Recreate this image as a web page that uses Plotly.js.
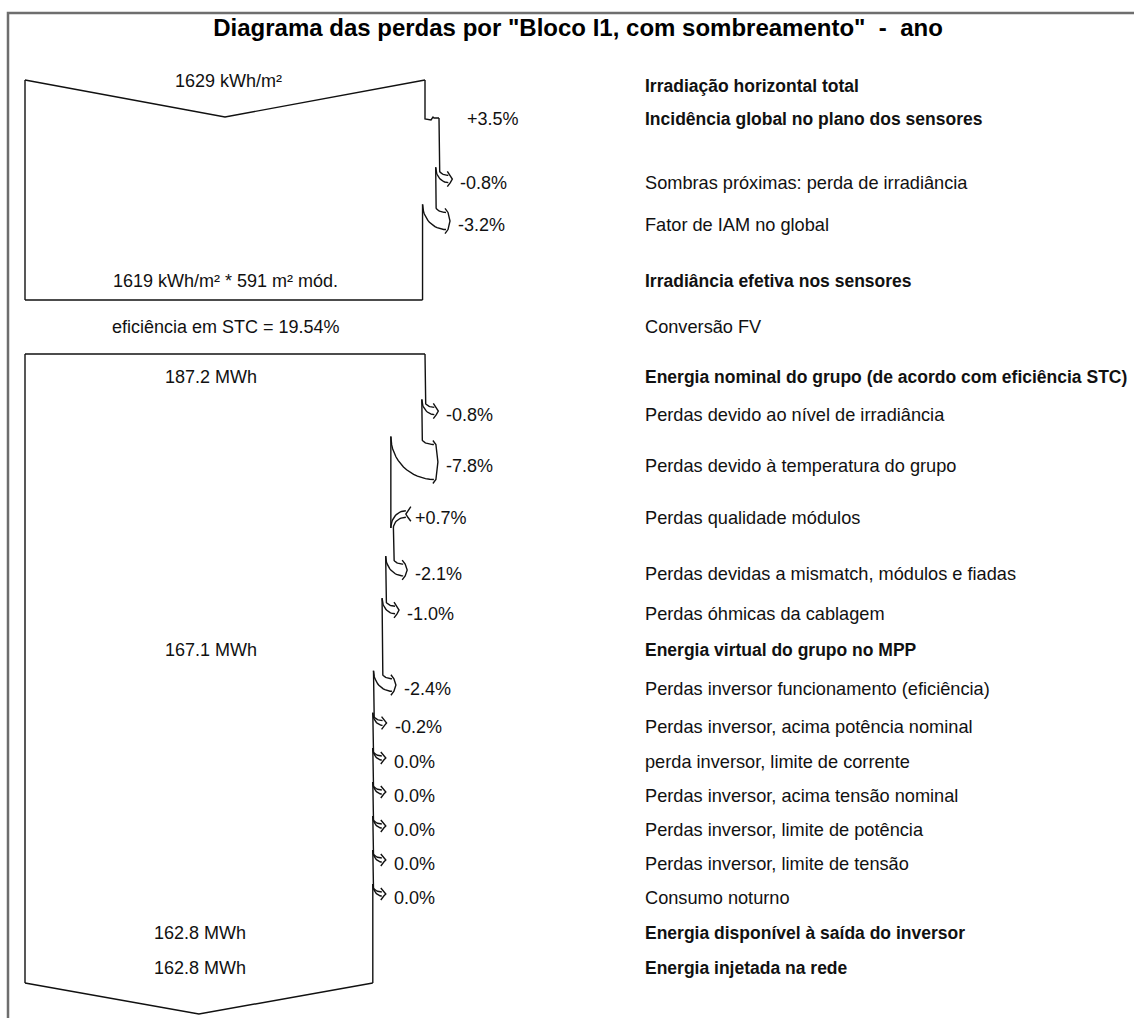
<!DOCTYPE html>
<html>
<head>
<meta charset="utf-8">
<script src="https://cdn.plot.ly/plotly-3.0.1.min.js"></script>
<style>
  html, body { margin: 0; padding: 0; background: #fff; }
  #chart { width: 1134px; height: 1018px; }
</style>
</head>
<body>
<div id="chart"></div>
<script>
// values
var irradHorizontal = 1629;   // kWh/m²
var irradEffective = 1619;    // kWh/m²
var moduleArea = 591;         // m²
var effSTC = 19.54;           // %
var energyNominal = 187.2;    // MWh
var energyMPP = 167.1;
var energyInverterOut = 162.8;
var energyGrid = 162.8;

var irradSteps = [3.5, -0.8, -3.2];
var energySteps = [-0.8, -7.8, 0.7, -2.1, -1.0, -2.4, -0.2, 0.0, 0.0, 0.0, 0.0, 0.0];

var rowLabels = [
  'Irradiação horizontal total',
  'Incidência global no plano dos sensores',
  'Sombras próximas: perda de irradiância',
  'Fator de IAM no global',
  'Irradiância efetiva nos sensores',
  'Conversão FV',
  'Energia nominal do grupo (de acordo com eficiência STC)',
  'Perdas devido ao nível de irradiância',
  'Perdas devido à temperatura do grupo',
  'Perdas qualidade módulos',
  'Perdas devidas a mismatch, módulos e fiadas',
  'Perdas óhmicas da cablagem',
  'Energia virtual do grupo no MPP',
  'Perdas inversor funcionamento (eficiência)',
  'Perdas inversor, acima potência nominal',
  'perda inversor, limite de corrente',
  'Perdas inversor, acima tensão nominal',
  'Perdas inversor, limite de potência',
  'Perdas inversor, limite de tensão',
  'Consumo noturno',
  'Energia disponível à saída do inversor',
  'Energia injetada na rede'
];

// ---- layout of the drawing (pixel units, y grows downwards) ----
var ROW_Y = [86, 119, 183, 225, 281, 327, 377, 415, 466, 518, 574, 614, 650,
             689, 727, 762, 796, 830, 864, 898, 933, 968];
var BOLD_ROWS = [0, 1, 4, 6, 12, 20, 21];
var STEP_ROWS1 = [1, 2, 3];
var STEP_ROWS2 = [7, 8, 9, 10, 11, 13, 14, 15, 16, 17, 18, 19];
var X0 = 25, W_PX = 400, LABEL_X = 643;
var FONT = 'Liberation Sans, Arial, sans-serif';

var lx = [], ly = [];
var notes = [];

function poly(pts) {
  pts.forEach(function (p) { lx.push(p[0]); ly.push(p[1]); });
  lx.push(null); ly.push(null);
}
// vertical tangent at start, horizontal at end
function arcVH(x1, y1, x2, y2) {
  var pts = [];
  for (var i = 0; i <= 16; i++) {
    var t = i / 16 * Math.PI / 2;
    pts.push([x2 + (x1 - x2) * Math.cos(t), y1 + (y2 - y1) * Math.sin(t)]);
  }
  return pts;
}
// horizontal tangent at start, vertical at end
function arcHV(x1, y1, x2, y2) {
  var pts = [];
  for (var i = 0; i <= 16; i++) {
    var t = i / 16 * Math.PI / 2;
    pts.push([x1 + (x2 - x1) * Math.sin(t), y2 + (y1 - y2) * Math.cos(t)]);
  }
  return pts;
}
function pctText(p) {
  return (p > 0 ? '+' : '') + p.toFixed(1) + '%';
}

function drawBlock(topY, vTop, bottomY, vBottom, steps, rows, firstGainIsStep) {
  var frac = 1;
  var right = X0 + W_PX * frac;
  // top edge
  if (vTop) poly([[X0, topY], [X0 + W_PX / 2, topY + vTop], [right, topY]]);
  else poly([[X0, topY], [right, topY]]);
  var segStart = topY;

  steps.forEach(function (p, i) {
    var y = ROW_Y[rows[i]];
    var xo = right;
    frac = frac * (1 + p / 100);
    var xn = X0 + W_PX * frac;
    var d = Math.abs(xn - xo);
    var ya = y - 4;
    var labelX;
    if (p > 0 && firstGainIsStep && i === 0) {
      poly([[xo, segStart], [xo, y], [xo + 6, y + 1], [xo + 8, y - 2], [xo + 9, y - 1], [xn, y - 1]]);
      segStart = y - 1;
      labelX = xn + 26;
    } else if (p > 0) {
      var tipG = xo + 17;
      var yEnd = ya + 14;
      poly([[xo, segStart], [xo, yEnd]]);
      poly(arcHV(tipG - 2, ya - d / 2 - 2, xo, yEnd));
      poly(arcHV(tipG - 2, ya + d / 2 + 2, xn, yEnd));
      poly([[tipG + 3, ya - d / 2 - 6], [tipG, ya - d / 2 - 2], [tipG - 2, ya],
            [tipG, ya + d / 2 + 2], [tipG + 3, ya + d / 2 + 6]]);
      segStart = yEnd;
      labelX = tipG + 5;
    } else {
      var tip = xo + 11 + 0.1 * d;
      var yS = ya - d / 2 - 8;
      poly([[xo, segStart]].concat(arcVH(xo, yS, tip - 2, ya - d / 2 - 2)));
      poly(arcVH(xn, yS - 2, tip - 2, ya + d / 2 + 2));
      poly([[tip - 3, ya - d / 2 - 6], [tip, ya - d / 2 - 2], [tip + 2, ya],
            [tip, ya + d / 2 + 2], [tip - 3, ya + d / 2 + 6]]);
      segStart = yS - 2;
      labelX = tip + 8;
    }
    right = xn;
    notes.push({x: labelX, y: y, text: pctText(p), xanchor: 'left'});
  });

  poly([[right, segStart], [right, bottomY]]);
  if (vBottom) poly([[right, bottomY], [(X0 + right) / 2, bottomY + vBottom], [X0, bottomY]]);
  else poly([[right, bottomY], [X0, bottomY]]);
  poly([[X0, topY], [X0, bottomY]]);
}

drawBlock(80, 37, 300, 0, irradSteps, STEP_ROWS1, true);
drawBlock(354, 0, 983, 31, energySteps, STEP_ROWS2, false);

// value labels inside the flow
notes.push({x: 228, y: 81, text: irradHorizontal + ' kWh/m²'});
notes.push({x: 225, y: ROW_Y[4], text: irradEffective + ' kWh/m² * ' + moduleArea + ' m² mód.'});
notes.push({x: 226, y: ROW_Y[5], text: 'eficiência em STC = ' + effSTC.toFixed(2) + '%'});
notes.push({x: 211, y: ROW_Y[6], text: energyNominal.toFixed(1) + ' MWh'});
notes.push({x: 211, y: ROW_Y[12], text: energyMPP.toFixed(1) + ' MWh'});
notes.push({x: 200, y: ROW_Y[20], text: energyInverterOut.toFixed(1) + ' MWh'});
notes.push({x: 200, y: ROW_Y[21], text: energyGrid.toFixed(1) + ' MWh'});

rowLabels.forEach(function (lab, i) {
  var bold = BOLD_ROWS.indexOf(i) >= 0;
  notes.push({x: LABEL_X, y: ROW_Y[i], text: bold ? '<b>' + lab + '</b>' : lab,
              xanchor: 'left', size: bold ? 17.5 : 18.2});
});

var annotations = notes.map(function (n) {
  return {
    x: n.x, y: n.y, xref: 'x', yref: 'y', text: n.text, showarrow: false,
    xanchor: n.xanchor || 'center', yanchor: 'middle',
    font: {family: FONT, size: n.size || 18, color: '#111111'}
  };
});

var diagram = {
  x: lx, y: ly, type: 'scatter', mode: 'lines',
  line: {color: '#111111', width: 1.4},
  hoverinfo: 'skip', showlegend: false
};

var layout = {
  width: 1134, height: 1018,
  margin: {l: 0, r: 0, t: 0, b: 0},
  paper_bgcolor: '#ffffff', plot_bgcolor: '#ffffff',
  title: {
    text: '<b>Diagrama das perdas por "Bloco I1, com sombreamento"  -  ano</b>',
    x: 578 / 1134, xanchor: 'center', xref: 'paper',
    y: 1 - 28 / 1018, yanchor: 'middle', yref: 'container',
    font: {family: FONT, size: 24, color: '#000000'}
  },
  xaxis: {range: [0, 1134], visible: false, fixedrange: true},
  yaxis: {range: [1018, 0], visible: false, fixedrange: true},
  annotations: annotations,
  shapes: [{
    type: 'rect', xref: 'x', yref: 'y', x0: 8, y0: 13, x1: 1160, y1: 1040,
    line: {color: '#6e6e6e', width: 2.5}
  }]
};

Plotly.newPlot('chart', [diagram], layout, {staticPlot: true, displayModeBar: false});
</script>
</body>
</html>
